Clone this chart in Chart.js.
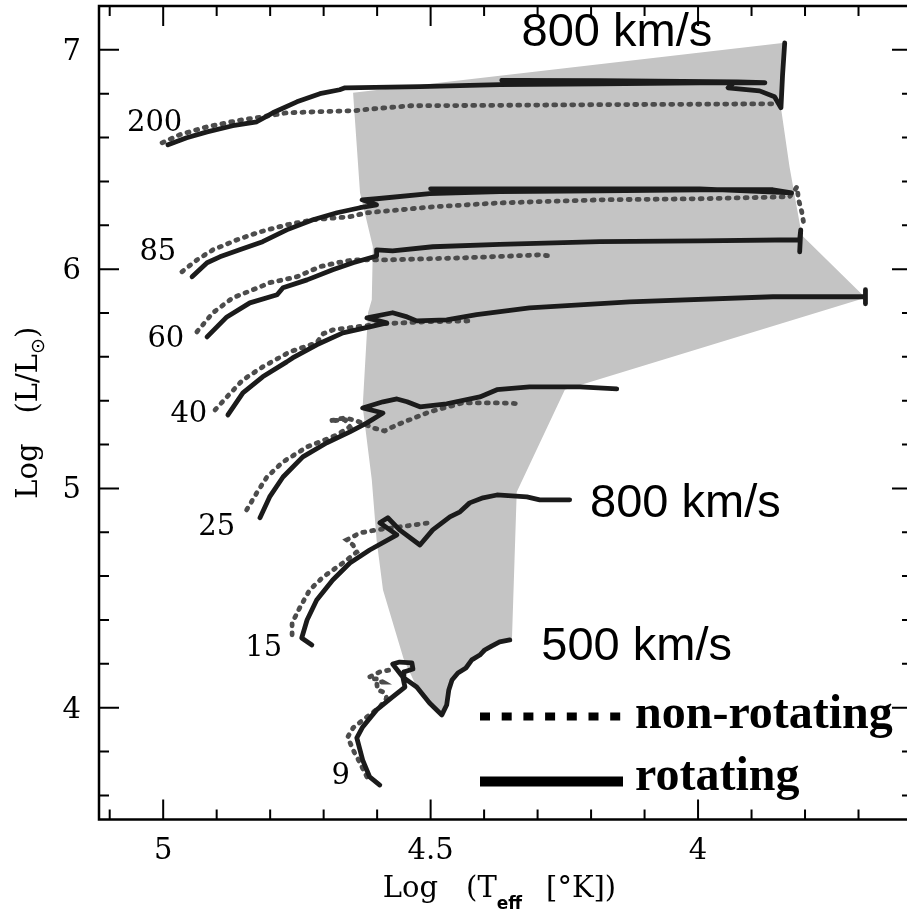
<!DOCTYPE html>
<html>
<head>
<meta charset="utf-8">
<title>HR tracks</title>
<script src="https://cdn.jsdelivr.net/npm/chart.js@4.4.0/dist/chart.umd.min.js"></script>
<style>
  html, body { margin: 0; padding: 0; background: #fff; overflow: hidden; }
  #wrap { width: 907px; height: 913px; overflow: hidden; }
</style>
</head>
<body>
<div id="wrap"><canvas id="hr" width="920" height="913"></canvas></div>
<script>
// tracks are [log Teff, log L/Lsun]
const ROT_200 = [[4.991,6.567],[4.956,6.599],[4.918,6.626],[4.870,6.654],[4.825,6.672],[4.795,6.713],[4.750,6.763],[4.707,6.800],[4.670,6.818],[4.660,6.827],[4.520,6.832],[4.371,6.841],[4.184,6.845],[3.997,6.850],[3.875,6.850],[3.926,6.854],[4.184,6.859],[4.367,6.861],[4.184,6.857],[3.931,6.854],[3.944,6.827],[3.885,6.813],[3.857,6.786],[3.845,6.736],[3.842,6.886],[3.838,7.032]];
const NOROT_200 = [[5.002,6.576],[4.969,6.613],[4.918,6.649],[4.862,6.677],[4.813,6.695],[4.769,6.713],[4.707,6.718],[4.645,6.722],[4.608,6.731],[4.539,6.745],[4.371,6.747],[4.184,6.750],[3.997,6.752],[3.860,6.754]];

const ROT_85 = [[4.946,5.965],[4.918,6.029],[4.894,6.056],[4.857,6.088],[4.814,6.125],[4.769,6.179],[4.720,6.225],[4.675,6.257],[4.632,6.280],[4.601,6.293],[4.628,6.316],[4.601,6.321],[4.502,6.344],[4.371,6.353],[4.184,6.357],[3.997,6.362],[3.860,6.362],[3.825,6.348],[3.997,6.366],[4.500,6.366]];
const NOROT_85 = [[4.965,5.988],[4.937,6.042],[4.907,6.088],[4.862,6.134],[4.819,6.170],[4.769,6.202],[4.720,6.225],[4.651,6.239],[4.619,6.257],[4.496,6.284],[4.371,6.302],[4.184,6.316],[3.997,6.321],[3.829,6.330],[3.815,6.375],[3.812,6.316],[3.806,6.261],[3.802,6.202]];

const ROT_60 = [[4.918,5.691],[4.881,5.782],[4.838,5.846],[4.787,5.883],[4.776,5.915],[4.731,5.951],[4.683,5.997],[4.645,6.029],[4.601,6.060],[4.601,6.088],[4.571,6.083],[4.496,6.102],[4.371,6.113],[4.184,6.125],[3.997,6.129],[3.810,6.134],[3.808,6.179],[3.810,6.079]];
const NOROT_60 = [[4.937,5.714],[4.907,5.801],[4.870,5.869],[4.819,5.919],[4.801,5.938],[4.750,5.965],[4.707,6.011],[4.675,6.029],[4.645,6.042],[4.582,6.042],[4.432,6.052],[4.296,6.065],[4.277,6.060]];

const ROT_40 = [[4.879,5.335],[4.851,5.436],[4.814,5.509],[4.769,5.577],[4.758,5.595],[4.713,5.655],[4.664,5.709],[4.614,5.737],[4.582,5.755],[4.619,5.778],[4.571,5.801],[4.544,5.782],[4.526,5.764],[4.470,5.769],[4.414,5.792],[4.315,5.823],[4.128,5.851],[3.860,5.874],[3.687,5.874],[3.687,5.906],[3.687,5.842]];
const NOROT_40 = [[4.903,5.358],[4.881,5.417],[4.851,5.495],[4.814,5.554],[4.763,5.623],[4.713,5.664],[4.701,5.705],[4.683,5.723],[4.651,5.733],[4.589,5.751],[4.507,5.760],[4.421,5.764]];

const ROT_25 = [[4.819,4.866],[4.801,4.961],[4.776,5.052],[4.739,5.144],[4.694,5.208],[4.651,5.258],[4.619,5.299],[4.589,5.344],[4.627,5.367],[4.589,5.395],[4.563,5.408],[4.544,5.395],[4.520,5.372],[4.470,5.386],[4.408,5.417],[4.376,5.450],[4.315,5.463],[4.221,5.463],[4.152,5.454]];
const NOROT_25 = [[4.844,4.902],[4.825,4.980],[4.806,5.052],[4.776,5.121],[4.731,5.189],[4.675,5.244],[4.651,5.281],[4.660,5.313],[4.688,5.308],[4.660,5.322],[4.638,5.308],[4.608,5.276],[4.586,5.262],[4.563,5.290],[4.502,5.349],[4.440,5.390],[4.376,5.390],[4.330,5.386]];

const ROT_15 = [[4.722,4.286],[4.741,4.318],[4.731,4.400],[4.713,4.491],[4.683,4.582],[4.651,4.660],[4.614,4.719],[4.563,4.788],[4.595,4.843],[4.580,4.866],[4.558,4.811],[4.520,4.742],[4.496,4.811],[4.464,4.870],[4.445,4.893],[4.427,4.934],[4.402,4.957],[4.376,4.970],[4.320,4.961],[4.296,4.948],[4.240,4.948]];
const NOROT_15 = [[4.759,4.332],[4.759,4.386],[4.744,4.459],[4.726,4.537],[4.701,4.596],[4.664,4.660],[4.638,4.710],[4.645,4.742],[4.657,4.765],[4.632,4.797],[4.601,4.811],[4.571,4.820],[4.533,4.833],[4.502,4.843]];

const ROT_9 = [[4.595,3.647],[4.614,3.684],[4.627,3.761],[4.638,3.862],[4.627,3.912],[4.601,3.990],[4.571,4.049],[4.548,4.094],[4.552,4.140],[4.571,4.199],[4.558,4.208],[4.535,4.204],[4.533,4.176],[4.550,4.163],[4.550,4.136],[4.526,4.094],[4.502,4.021],[4.479,3.967],[4.470,4.012],[4.466,4.081],[4.460,4.126],[4.449,4.158],[4.434,4.181],[4.423,4.218],[4.408,4.240],[4.399,4.263],[4.386,4.281],[4.371,4.300],[4.352,4.309]];
const NOROT_9 = [[4.619,3.684],[4.632,3.748],[4.645,3.807],[4.655,3.866],[4.645,3.908],[4.619,3.958],[4.595,4.003],[4.582,4.044],[4.589,4.072],[4.599,4.081],[4.601,4.117],[4.589,4.117],[4.599,4.131],[4.614,4.131],[4.614,4.140],[4.595,4.163],[4.567,4.177]];

// region swept by the fastest rotators
const FAST_ZONE = [[4.645,6.804],[3.838,7.032],[3.845,6.736],[3.829,6.467],[3.806,6.155],[3.687,5.869],[4.249,5.450],[4.339,4.984],[4.348,4.309],[4.371,4.300],[4.386,4.281],[4.399,4.263],[4.408,4.240],[4.423,4.218],[4.434,4.181],[4.449,4.158],[4.460,4.126],[4.466,4.081],[4.470,4.012],[4.479,3.967],[4.502,4.021],[4.526,4.094],[4.550,4.218],[4.589,4.537],[4.601,4.765],[4.610,5.039],[4.627,5.372],[4.617,5.801],[4.610,5.860],[4.608,6.102],[4.632,6.348],[4.645,6.804]];

const MASSES = ['200', '85', '60', '40', '25', '15', '9'];
const MASS_LABEL_AT = [[5.016,6.662],[5.010,6.074],[4.995,5.677],[4.952,5.335],[4.900,4.820],[4.812,4.272],[4.668,3.684]];

const SPEED_NOTES = ['800 km/s', '800 km/s', '500 km/s'];
const SPEED_NOTE_AT = [[4.330,7.016],[4.202,4.871],[4.293,4.218]];

const X_TICK_LABELS = [5, 4.5, 4];
const Y_TICK_LABELS = [4, 5, 6, 7];

const SERIF = '"DejaVu Serif", serif';

function solid(data) {
    return {
        data: data,
        borderColor: '#1b1b1b',
        borderWidth: 4.8,
        borderCapStyle: 'round',
        borderJoinStyle: 'round',
        pointRadius: 0,
        fill: false,
        order: 1,
    };
}

function dotted(data) {
    return {
        data: data,
        borderColor: '#4c4c4c',
        borderWidth: 4.8,
        borderDash: [2, 7],
        borderCapStyle: 'round',
        pointRadius: 0,
        fill: false,
        order: 2,
    };
}

// draws a run of text pieces centred on 0 along the current x axis
function drawPieces(ctx, pieces) {
    let total = 0;
    pieces.forEach(function (p) {
        ctx.font = p.font;
        p.w = ctx.measureText(p.text).width;
        total += (p.gap || 0) + p.w;
    });
    let cx = -total / 2;
    pieces.forEach(function (p) {
        cx += p.gap || 0;
        ctx.font = p.font;
        ctx.fillText(p.text, cx, p.dy || 0);
        cx += p.w;
    });
}

const hrFrame = {
    id: 'hrFrame',
    afterDraw(chart) {
        const ctx = chart.ctx;
        const ca = chart.chartArea;
        const x = chart.scales.x;
        const y = chart.scales.y;

        ctx.save();
        ctx.strokeStyle = '#000';
        ctx.fillStyle = '#000';
        ctx.lineWidth = 2.5;
        ctx.strokeRect(ca.left, ca.top, ca.right - ca.left, ca.bottom - ca.top);

        // inward ticks on all four sides
        ctx.lineWidth = 2;
        ctx.beginPath();
        for (let i = 37; i <= 51; i++) {
            const px = x.getPixelForValue(i / 10);
            const len = i % 5 === 0 ? 20 : 10;
            ctx.moveTo(px, ca.bottom); ctx.lineTo(px, ca.bottom - len);
            ctx.moveTo(px, ca.top); ctx.lineTo(px, ca.top + len);
        }
        for (let i = 18; i <= 36; i++) {
            const py = y.getPixelForValue(i / 5);
            const len = i % 5 === 0 ? 20 : 10;
            ctx.moveTo(ca.left, py); ctx.lineTo(ca.left + len, py);
            ctx.moveTo(ca.right, py); ctx.lineTo(ca.right - len, py);
        }
        ctx.stroke();

        // tick labels
        ctx.font = '29px ' + SERIF;
        ctx.textAlign = 'center';
        ctx.textBaseline = 'alphabetic';
        X_TICK_LABELS.forEach(function (v) {
            ctx.fillText(String(v), x.getPixelForValue(v), ca.bottom + 39);
        });
        ctx.textAlign = 'right';
        Y_TICK_LABELS.forEach(function (v) {
            ctx.fillText(String(v), ca.left - 18, y.getPixelForValue(v) + 10);
        });

        // axis titles
        ctx.textAlign = 'left';
        ctx.save();
        ctx.translate((ca.left + ca.right) / 2 - 6, ca.bottom + 77);
        drawPieces(ctx, [
            {text: 'Log', font: '29px ' + SERIF},
            {text: '(T', font: '29px ' + SERIF, gap: 28},
            {text: 'eff', font: 'bold 17px "DejaVu Sans", sans-serif', dy: 12},
            {text: '[\u00b0K])', font: '29px ' + SERIF, gap: 24},
        ]);
        ctx.restore();

        ctx.save();
        ctx.translate(ca.left - 62, (ca.top + ca.bottom) / 2);
        ctx.rotate(-Math.PI / 2);
        drawPieces(ctx, [
            {text: 'Log', font: '29px ' + SERIF},
            {text: '(L/L', font: '29px ' + SERIF, gap: 30},
            {text: '\u2299', font: '19px "DejaVu Sans", sans-serif', dy: 7},
            {text: ')', font: '29px ' + SERIF},
        ]);
        ctx.restore();

        // initial masses
        ctx.font = '29px ' + SERIF;
        ctx.textAlign = 'center';
        ctx.textBaseline = 'middle';
        MASSES.forEach(function (m, i) {
            const at = MASS_LABEL_AT[i];
            ctx.fillText(m, x.getPixelForValue(at[0]), y.getPixelForValue(at[1]));
        });

        // rotation speeds
        ctx.font = '47px "Liberation Sans", Arial, sans-serif';
        ctx.textAlign = 'left';
        ctx.textBaseline = 'alphabetic';
        SPEED_NOTES.forEach(function (s, i) {
            const at = SPEED_NOTE_AT[i];
            ctx.fillText(s, x.getPixelForValue(at[0]), y.getPixelForValue(at[1]));
        });

        // key
        const kx = ca.left + 381;
        ctx.lineCap = 'butt';
        ctx.lineWidth = 8;
        ctx.setLineDash([10, 11.7]);
        ctx.beginPath();
        ctx.moveTo(kx, ca.bottom - 103); ctx.lineTo(kx + 143, ca.bottom - 103);
        ctx.stroke();
        ctx.setLineDash([]);
        ctx.lineWidth = 10;
        ctx.beginPath();
        ctx.moveTo(kx, ca.bottom - 38); ctx.lineTo(kx + 143, ca.bottom - 38);
        ctx.stroke();
        ctx.font = 'bold 48px "Liberation Serif", "Times New Roman", serif';
        ctx.fillText('non-rotating', kx + 155, ca.bottom - 92);
        ctx.fillText('rotating', kx + 155, ca.bottom - 30);
        ctx.restore();
    }
};

const datasets = [
    {
        data: FAST_ZONE,
        borderColor: 'rgba(0,0,0,0)',
        borderWidth: 0,
        backgroundColor: '#c4c4c4',
        fill: 'shape',
        pointRadius: 0,
        order: 3,
    },
];
[ROT_200, ROT_85, ROT_60, ROT_40, ROT_25, ROT_15, ROT_9].forEach(function (t) {
    datasets.push(solid(t));
});
[NOROT_200, NOROT_85, NOROT_60, NOROT_40, NOROT_25, NOROT_15, NOROT_9].forEach(function (t) {
    datasets.push(dotted(t));
});

new Chart(document.getElementById('hr'), {
    type: 'line',
    data: { datasets: datasets },
    options: {
        responsive: false,
        animation: false,
        devicePixelRatio: 1,
        layout: {
            padding: { left: 99, right: 8, top: 6, bottom: 93.5 },
        },
        elements: {
            line: { tension: 0 },
        },
        scales: {
            x: {
                type: 'linear',
                reverse: true,
                min: 3.6,
                max: 5.12,
                display: false,
            },
            y: {
                type: 'linear',
                min: 3.49,
                max: 7.2,
                display: false,
            },
        },
        plugins: {
            legend: { display: false },
            tooltip: { enabled: false },
        },
    },
    plugins: [hrFrame],
});
</script>
</body>
</html>
